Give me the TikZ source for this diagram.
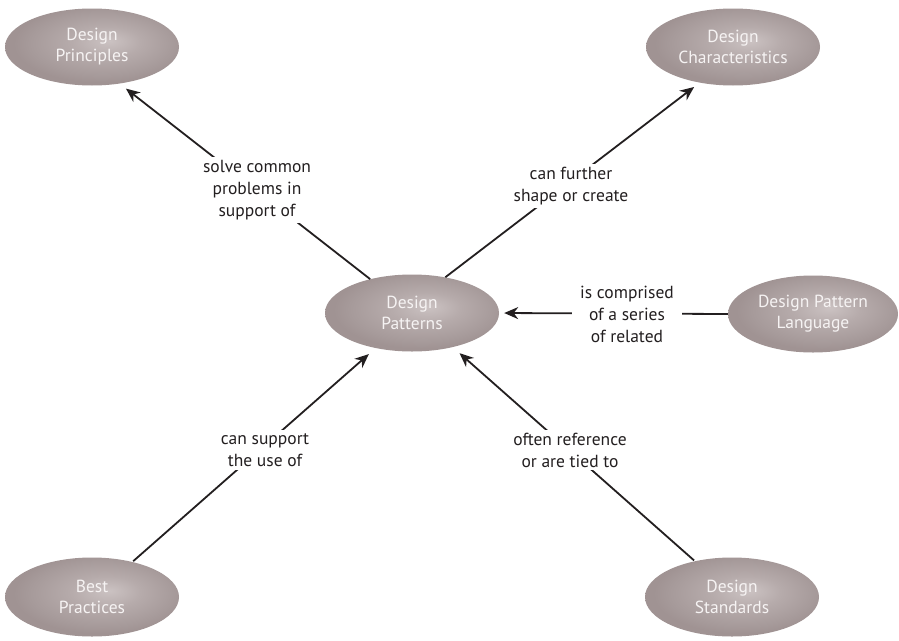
\documentclass[tikz,border=0pt]{standalone}
\usepackage{fontspec}
\setmainfont{PT Sans}
\usetikzlibrary{arrows.meta,shapes.geometric}

\definecolor{pillhi}{HTML}{CBC2C2}
\definecolor{pillmid}{HTML}{B6ABAB}
\definecolor{pilllo}{HTML}{A69A9A}
\definecolor{pilledge}{HTML}{A09393}
\definecolor{ink}{HTML}{231F20}
\definecolor{pilltext}{HTML}{F6F3F3}

% soft highlight slightly up and to the right of the centre
\pgfdeclareradialshading{pill}{\pgfpoint{5bp}{4bp}}{%
  color(0bp)=(pillhi); color(10bp)=(pillmid); color(21bp)=(pilllo);
  color(25bp)=(pilledge); color(50bp)=(pilledge)}

\tikzset{
  concept/.style={ellipse, shading=pill, draw=none, minimum width=174pt,
    minimum height=77pt, inner sep=0pt, align=center, text=pilltext,
    font=\fontsize{17.5}{21}\selectfont},
  link/.style={draw=ink, line width=1.8pt,
    -{Stealth[length=14pt,width=12pt,inset=4.5pt]}},
  lbl/.style={fill=white, align=center, text=ink, inner sep=3pt,
    font=\fontsize{17.5}{22}\selectfont},
}

\begin{document}
\begin{tikzpicture}[x=1pt,y=-1pt]
  \useasboundingbox[fill=white] (0,0) rectangle (899,640);

  % concepts
  \node[concept] (pr) at (92,47)   {Design\\Principles};
  \node[concept] (ch) at (733,47)  {Design\\Characteristics};
  \node[concept] (dp) at (412,313) {Design\\Patterns};
  \node[concept, minimum width=170pt] (pl) at (813,314) {Design Pattern\\Language};
  \node[concept, minimum height=79pt] (bp) at (92,597)  {Best\\Practices};
  \node[concept, minimum height=79pt] (ds) at (732,597) {Design\\Standards};

  % relations
  \draw[link, shorten >=8pt] (dp.141) -- (pr.-53);
  \draw[link, shorten >=7pt] (dp.47) -- (ch.227);
  \draw[link, shorten >=5pt] (pl.west) -- (dp.east);
  \draw[link, shorten <=1pt, shorten >=9pt] (bp.41) -- (dp.224);
  \draw[link, shorten <=1pt, shorten >=9pt] (ds.136) -- (dp.-40);

  % relation labels, masking the lines behind them
  \node[lbl] (l1) at (257,190) {solve common\\problems in\\support of};
  \node[lbl] (l2) at (571,186) {can further\\shape or create};
  \node[lbl, inner xsep=8pt] (l3) at (627,314) {is comprised\\of a series\\of related};
  \node[lbl] (l4) at (265,450) {can support\\the use of};
  \node[lbl] (l5) at (570,450) {often reference\\or are tied to};
\end{tikzpicture}
\end{document}
